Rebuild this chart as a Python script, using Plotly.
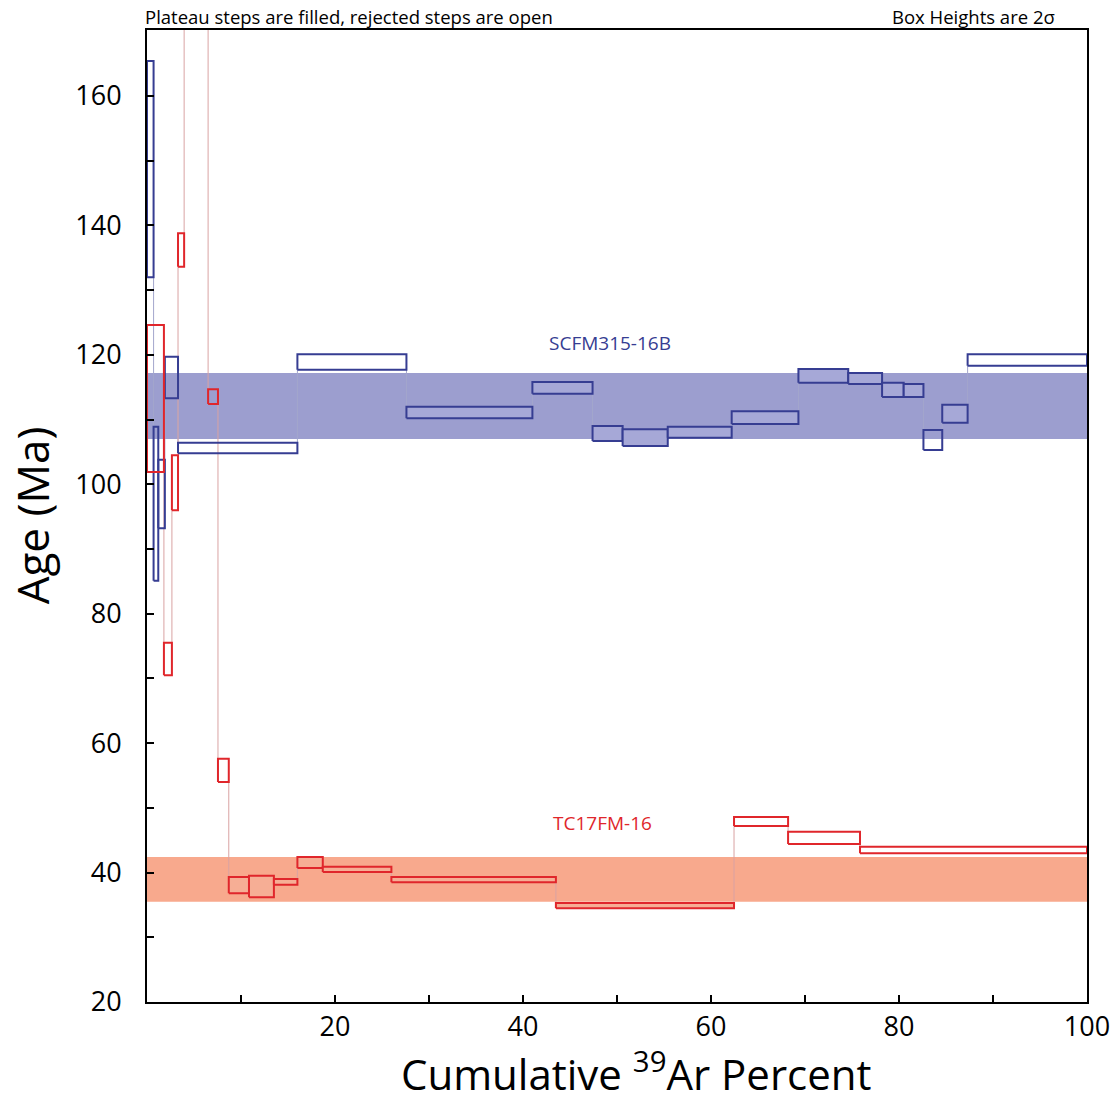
import plotly.graph_objects as go

# ---------------- data ----------------
# SCFM315-16B (blue)
blue_cum = [0.0, 0.7, 1.2, 1.9, 3.3, 16.0, 27.6, 41.0, 47.4, 50.6, 55.4,
            62.2, 69.3, 74.6, 78.2, 80.5, 82.6, 84.6, 87.3, 100.0]
blue_age = [148.7, 97.0, 98.5, 116.5, 105.6, 118.9, 111.1, 114.9, 107.85, 107.2,
            108.05, 110.3, 116.75, 116.35, 114.6, 114.5, 106.85, 110.9, 119.2]
blue_err = [16.7, 11.9, 5.3, 3.2, 0.8, 1.2, 0.9, 0.9, 1.15, 1.3,
            0.85, 1.0, 1.05, 0.85, 1.1, 1.0, 1.55, 1.4, 0.9]
blue_plateau = [0, 0, 0, 0, 0, 0, 1, 1, 1, 1, 1, 1, 1, 1, 1, 1, 0, 1, 0]
blue_plateau_age = 112.1
blue_plateau_err = 5.1

# TC17FM-16 (red)
red_cum = [0.0, 1.8, 2.65, 3.3, 3.95, 6.5, 7.55, 8.7, 10.85, 13.5, 16.0,
           18.7, 26.0, 43.5, 62.45, 68.2, 75.85, 100.0]
red_age = [113.25, 73.0, 100.25, 136.2, 190.0, 113.55, 55.8, 38.05, 37.85, 38.55,
           41.55, 40.5, 38.9, 34.9, 47.9, 45.35, 43.5]
red_err = [11.35, 2.5, 4.25, 2.6, 8.0, 1.15, 1.8, 1.25, 1.65, 0.45,
           0.85, 0.4, 0.4, 0.4, 0.7, 0.95, 0.5]
red_plateau = [0, 0, 0, 0, 0, 0, 0, 1, 1, 1, 1, 1, 1, 1, 0, 0, 0]
red_plateau_age = 38.95
red_plateau_err = 3.45

x_major_ticks = [20, 40, 60, 80, 100]
x_minor_ticks = [10, 30, 50, 70, 90]
y_major_ticks = [20, 40, 60, 80, 100, 120, 140, 160]
y_minor_ticks = [30, 50, 70, 90, 110, 130, 150]

# ---------------- styles ----------------
BLUE_LINE = "#363d92"
BLUE_BAND = "#9c9ecf"
BLUE_FILL = "#a6a8d7"
BLUE_CONN = "#a3a6cc"
RED_LINE = "#e0262b"
RED_BAND = "#f8a98d"
RED_FILL = "#f6ae95"
RED_CONN = "#d9a3a3"
FONT = "Open Sans"

fig = go.Figure()


def add_band(age, err, color):
    fig.add_trace(go.Scatter(
        x=[0, 100, 100, 0, 0],
        y=[age - err, age - err, age + err, age + err, age - err],
        mode="lines", fill="toself", fillcolor=color,
        line=dict(width=0, color=color), hoverinfo="skip", showlegend=False))


def add_connectors(cum, age, err, color):
    xs, ys = [], []
    for i in range(len(age) - 1):
        xb = cum[i + 1]
        lo_i, hi_i = age[i] - err[i], age[i] + err[i]
        lo_j, hi_j = age[i + 1] - err[i + 1], age[i + 1] + err[i + 1]
        if lo_j > hi_i:
            y0, y1 = hi_i, lo_j
        elif hi_j < lo_i:
            y0, y1 = lo_i, hi_j
        else:
            continue
        xs += [xb, xb, None]
        ys += [y0, y1, None]
    fig.add_trace(go.Scatter(x=xs, y=ys, mode="lines",
                             line=dict(color=color, width=1),
                             hoverinfo="skip", showlegend=False))


def add_steps(cum, age, err, plateau, line_color, fill_color):
    for i in range(len(age)):
        x0, x1 = cum[i], cum[i + 1]
        lo, hi = age[i] - err[i], age[i] + err[i]
        fc = fill_color if plateau[i] else "rgba(255,255,255,0)"
        fig.add_trace(go.Scatter(
            x=[x0, x1, x1, x0, x0], y=[lo, lo, hi, hi, lo],
            mode="lines", fill="toself", fillcolor=fc,
            line=dict(color=line_color, width=2),
            hoverinfo="skip", showlegend=False))


add_band(blue_plateau_age, blue_plateau_err, BLUE_BAND)
add_band(red_plateau_age, red_plateau_err, RED_BAND)
add_connectors(blue_cum, blue_age, blue_err, BLUE_CONN)
add_connectors(red_cum, red_age, red_err, RED_CONN)
add_steps(blue_cum, blue_age, blue_err, blue_plateau, BLUE_LINE, BLUE_FILL)
add_steps(red_cum, red_age, red_err, red_plateau, RED_LINE, RED_FILL)

axis_common = dict(showgrid=False, zeroline=False, showline=True, linecolor="black",
                   linewidth=2, mirror=True, ticks="inside", ticklen=7, tickwidth=2,
                   tickcolor="black", automargin=False,
                   tickfont=dict(family=FONT, size=27, color="black"))

fig.update_xaxes(range=[0, 100], tickmode="array", tickvals=x_major_ticks,
                 minor=dict(tickmode="array", tickvals=x_minor_ticks, ticks="inside",
                            ticklen=7, tickwidth=2, tickcolor="black", showgrid=False),
                 ticklabeloverflow="allow", **axis_common)
fig.update_yaxes(range=[20, 170.2], tickmode="array", tickvals=y_major_ticks,
                 minor=dict(tickmode="array", tickvals=y_minor_ticks, ticks="inside",
                            ticklen=7, tickwidth=2, tickcolor="black", showgrid=False),
                 ticklabelstandoff=18, **axis_common)

annotations = [
    dict(text="Plateau steps are filled, rejected steps are open", x=0, y=1.0,
         xref="paper", yref="paper", xanchor="left", yanchor="bottom", showarrow=False,
         font=dict(family=FONT, size=18.5, color="black"), xshift=-4, yshift=-1),
    dict(text="Box Heights are 2σ", x=0.968, y=1.0, xref="paper", yref="paper",
         xanchor="right", yanchor="bottom", showarrow=False,
         font=dict(family=FONT, size=18.5, color="black"), yshift=-1),
    dict(text="SCFM315-16B", x=49.3, y=121.8, xref="x", yref="y", showarrow=False,
         xanchor="center", yanchor="middle",
         font=dict(family=FONT, size=19, color=BLUE_LINE)),
    dict(text="TC17FM-16", x=48.5, y=47.7, xref="x", yref="y", showarrow=False,
         xanchor="center", yanchor="middle",
         font=dict(family=FONT, size=19, color=RED_LINE)),
    dict(text="Age (Ma)", x=-0.122, y=0.501, xref="paper", yref="paper",
         xanchor="center", yanchor="middle",
         textangle=-90, showarrow=False,
         font=dict(family=FONT, size=44, color="black")),
    dict(text="Cumulative <sup>39</sup>Ar Percent", x=0.521, y=-0.038,
         xref="paper", yref="paper", showarrow=False,
         xanchor="center", yanchor="top",
         font=dict(family=FONT, size=42, color="black")),
]

fig.update_layout(width=1116, height=1101, margin=dict(l=147, r=29, t=30, b=99),
                  paper_bgcolor="white", plot_bgcolor="white",
                  annotations=annotations, showlegend=False)

fig.write_html("out.html")
